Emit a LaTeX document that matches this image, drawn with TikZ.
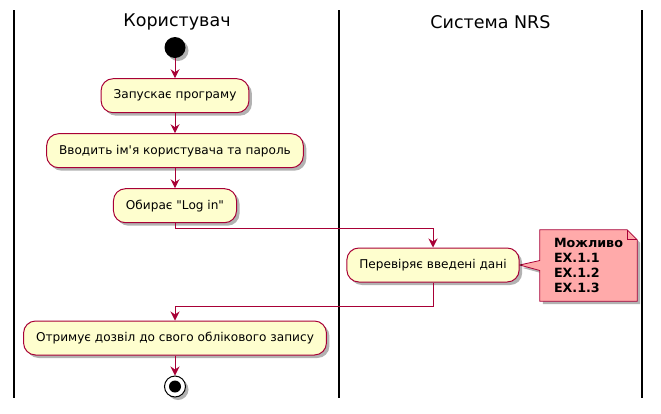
\documentclass[tikz,border=0pt]{standalone}
\usepackage{fontspec}
\setmainfont{DejaVu Sans}[Ligatures=TeXOff]
\usetikzlibrary{arrows.meta,positioning,shadows,backgrounds}

\definecolor{umlred}{HTML}{A80036}
\definecolor{umlfill}{HTML}{FEFECE}
\definecolor{notefill}{HTML}{FFAAAA}

\tikzset{
  umlshadow/.style={drop shadow={shadow xshift=3pt, shadow yshift=-3pt, opacity=0.3, fill=black}}
}

\begin{document}
\begin{tikzpicture}[
  x=1pt, y=-1pt,
  node distance=20pt,
  lane/.style={line width=1.4pt},
  header/.style={font=\fontsize{17.5}{20}\selectfont},
  act/.style={draw=umlred, fill=umlfill, rounded corners=12pt, line width=1pt, minimum height=34pt, inner xsep=12.5pt, font=\fontsize{12.1}{14}\selectfont, umlshadow},
  flow/.style={draw=umlred, line width=1pt, -{Stealth[length=9pt, width=9pt, inset=3pt]}},
  startdot/.style={circle, fill=black, minimum size=21pt, inner sep=0pt, umlshadow},
  enddot/.style={circle, draw=black, fill=white, line width=1pt, minimum size=21pt, inner sep=0pt, umlshadow,
    path picture={\fill[black] (path picture bounding box.center) circle (6pt);}},
  notetext/.style={minimum width=97pt, minimum height=71pt, align=left, inner sep=0pt, font=\fontsize{12.7}{15.3}\selectfont\bfseries}
]
\useasboundingbox (0,0) rectangle (661,413);

% swimlanes
\draw[lane] (14,10) -- (14,398);
\draw[lane] (339,10) -- (339,398);
\draw[lane] (642,10) -- (642,398);
\node[header] (user) at (177,22) {Користувач};
\node[header] (nrs) at (490.5,22) {Система NRS};

% activities
\node[startdot] (start) at (175,47.5) {};
\node[act, below=of start] (launch) {Запускає програму};
\node[act, below=of launch] (enter) {Вводить ім'я користувача та пароль};
\node[act, below=of enter] (login) {Обирає "Log in"};
\node[act] (check) at (433,265) {Перевіряє введені дані};
\node[act] (access) at (175,338) {Отримує дозвіл до свого облікового запису};
\node[enddot, below=of access] (stop) {};

% note
\node[notetext] (note) at (588.5,265.5) {Можливо\\EX.1.1\\EX.1.2\\EX.1.3};
\begin{scope}[on background layer]
\path[draw=umlred, fill=notefill, line width=0.8pt, umlshadow]
  (note.north west) -- ([xshift=-10pt]note.north east) -- ([yshift=-10pt]note.north east)
  -- (note.south east) -- (note.south west) -- ([yshift=-5pt]note.west)
  -- (check.east) -- ([yshift=5pt]note.west) -- cycle;
\end{scope}
\draw[umlred, line width=0.8pt] ([xshift=-10pt]note.north east) |- ([yshift=-10pt]note.north east);

% connectors
\draw[flow] (start) -- (launch);
\draw[flow] (launch) -- (enter);
\draw[flow] (enter) -- (login);
\draw[flow] (login.south) -- ++(0,5) -| (check.north);
\draw[flow] (check.south) -- ++(0,24) -| (access.north);
\draw[flow] (access) -- (stop);
\end{tikzpicture}
\end{document}
